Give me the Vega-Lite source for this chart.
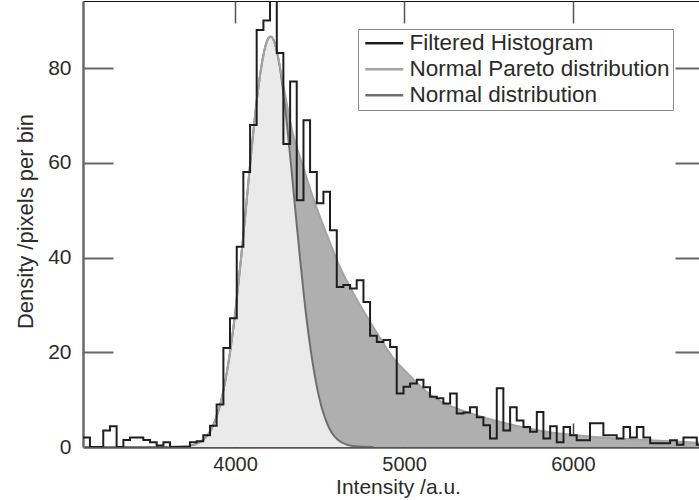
{
  "$schema": "https://vega.github.io/schema/vega-lite/v6.json",
  "autosize": "none",
  "width": 616,
  "height": 446,
  "padding": {"left": 83, "top": 1, "right": 0, "bottom": 53},
  "background": "white",
  "config": {
    "view": {"stroke": null},
    "font": "Liberation Sans",
    "axis": {"grid": false, "labelFont": "Liberation Sans", "titleFont": "Liberation Sans"}
  },
  "datasets": {
    "hist": [
      {"intensity": 3100, "value": 2},
      {"intensity": 3141, "value": 0},
      {"intensity": 3181, "value": 0},
      {"intensity": 3220, "value": 3.5},
      {"intensity": 3260, "value": 4.4},
      {"intensity": 3299, "value": 0},
      {"intensity": 3339, "value": 1.5},
      {"intensity": 3378, "value": 2},
      {"intensity": 3418, "value": 2},
      {"intensity": 3457, "value": 1.5},
      {"intensity": 3497, "value": 1},
      {"intensity": 3536, "value": 0.3},
      {"intensity": 3576, "value": 1},
      {"intensity": 3615, "value": 0},
      {"intensity": 3654, "value": 0},
      {"intensity": 3694, "value": 0},
      {"intensity": 3733, "value": 1},
      {"intensity": 3773, "value": 1.2},
      {"intensity": 3812, "value": 2.5},
      {"intensity": 3852, "value": 4.5},
      {"intensity": 3891, "value": 9},
      {"intensity": 3931, "value": 20.9},
      {"intensity": 3970, "value": 27.2},
      {"intensity": 4010, "value": 42.3},
      {"intensity": 4049, "value": 58.1},
      {"intensity": 4089, "value": 68},
      {"intensity": 4128, "value": 88.1},
      {"intensity": 4168, "value": 90.1},
      {"intensity": 4207, "value": 99},
      {"intensity": 4247, "value": 83.2},
      {"intensity": 4286, "value": 64},
      {"intensity": 4326, "value": 77.2},
      {"intensity": 4365, "value": 52.1},
      {"intensity": 4405, "value": 69},
      {"intensity": 4444, "value": 58.1},
      {"intensity": 4484, "value": 51.5},
      {"intensity": 4523, "value": 53.9},
      {"intensity": 4562, "value": 45.8},
      {"intensity": 4602, "value": 33.8},
      {"intensity": 4641, "value": 34.2},
      {"intensity": 4681, "value": 33.5},
      {"intensity": 4720, "value": 35.2},
      {"intensity": 4760, "value": 30.6},
      {"intensity": 4799, "value": 23.5},
      {"intensity": 4839, "value": 22.2},
      {"intensity": 4878, "value": 22.6},
      {"intensity": 4918, "value": 21.1},
      {"intensity": 4957, "value": 11.3},
      {"intensity": 4997, "value": 12.7},
      {"intensity": 5036, "value": 13.4},
      {"intensity": 5076, "value": 14.2},
      {"intensity": 5115, "value": 12.6},
      {"intensity": 5154, "value": 10.6},
      {"intensity": 5194, "value": 10.3},
      {"intensity": 5233, "value": 9.2},
      {"intensity": 5273, "value": 11.3},
      {"intensity": 5312, "value": 7.1},
      {"intensity": 5352, "value": 7.3},
      {"intensity": 5391, "value": 8.4},
      {"intensity": 5431, "value": 6.3},
      {"intensity": 5470, "value": 4.6},
      {"intensity": 5509, "value": 1.8},
      {"intensity": 5549, "value": 12.4},
      {"intensity": 5588, "value": 3.5},
      {"intensity": 5628, "value": 8.4},
      {"intensity": 5667, "value": 5.6},
      {"intensity": 5707, "value": 4.2},
      {"intensity": 5746, "value": 3.2},
      {"intensity": 5786, "value": 7.4},
      {"intensity": 5825, "value": 1.8},
      {"intensity": 5865, "value": 4.4},
      {"intensity": 5904, "value": 1},
      {"intensity": 5944, "value": 4.2},
      {"intensity": 5983, "value": 2.5},
      {"intensity": 6022, "value": 1.4},
      {"intensity": 6062, "value": 1.4},
      {"intensity": 6101, "value": 5},
      {"intensity": 6141, "value": 5},
      {"intensity": 6180, "value": 2.5},
      {"intensity": 6220, "value": 2.5},
      {"intensity": 6259, "value": 1.8},
      {"intensity": 6299, "value": 4.2},
      {"intensity": 6338, "value": 2},
      {"intensity": 6378, "value": 4.2},
      {"intensity": 6417, "value": 2},
      {"intensity": 6457, "value": 0.8},
      {"intensity": 6496, "value": 0.8},
      {"intensity": 6536, "value": 0.8},
      {"intensity": 6575, "value": 1.4},
      {"intensity": 6615, "value": 0.5},
      {"intensity": 6654, "value": 2},
      {"intensity": 6694, "value": 2},
      {"intensity": 6733, "value": 0.5},
      {"intensity": 6773, "value": 0.5}
    ],
    "normal": [
      {"intensity": 3600, "value": 0},
      {"intensity": 3660, "value": 0.04},
      {"intensity": 3710, "value": 0.15},
      {"intensity": 3760, "value": 0.5},
      {"intensity": 3810, "value": 1.5},
      {"intensity": 3835, "value": 2.4},
      {"intensity": 3860, "value": 3.8},
      {"intensity": 3885, "value": 5.9},
      {"intensity": 3910, "value": 8.7},
      {"intensity": 3935, "value": 12.6},
      {"intensity": 3960, "value": 17.6},
      {"intensity": 3985, "value": 23.8},
      {"intensity": 4010, "value": 31.2},
      {"intensity": 4035, "value": 39.7},
      {"intensity": 4060, "value": 48.8},
      {"intensity": 4085, "value": 58.2},
      {"intensity": 4110, "value": 67.2},
      {"intensity": 4135, "value": 75.1},
      {"intensity": 4160, "value": 81.3},
      {"intensity": 4185, "value": 85.3},
      {"intensity": 4210, "value": 86.7},
      {"intensity": 4235, "value": 85.3},
      {"intensity": 4260, "value": 81.3},
      {"intensity": 4285, "value": 75.1},
      {"intensity": 4310, "value": 67.2},
      {"intensity": 4335, "value": 58.2},
      {"intensity": 4360, "value": 48.8},
      {"intensity": 4385, "value": 39.7},
      {"intensity": 4410, "value": 31.2},
      {"intensity": 4435, "value": 23.8},
      {"intensity": 4460, "value": 17.6},
      {"intensity": 4485, "value": 12.6},
      {"intensity": 4510, "value": 8.7},
      {"intensity": 4535, "value": 5.9},
      {"intensity": 4560, "value": 3.8},
      {"intensity": 4585, "value": 2.4},
      {"intensity": 4610, "value": 1.5},
      {"intensity": 4660, "value": 0.5},
      {"intensity": 4710, "value": 0.15},
      {"intensity": 4760, "value": 0.04},
      {"intensity": 4820, "value": 0}
    ],
    "pareto": [
      {"intensity": 3600, "value": 0},
      {"intensity": 3660, "value": 0.04},
      {"intensity": 3710, "value": 0.15},
      {"intensity": 3760, "value": 0.5},
      {"intensity": 3810, "value": 1.5},
      {"intensity": 3835, "value": 2.4},
      {"intensity": 3860, "value": 3.8},
      {"intensity": 3885, "value": 5.9},
      {"intensity": 3910, "value": 8.7},
      {"intensity": 3935, "value": 12.6},
      {"intensity": 3960, "value": 17.6},
      {"intensity": 3985, "value": 23.8},
      {"intensity": 4010, "value": 31.2},
      {"intensity": 4035, "value": 39.7},
      {"intensity": 4060, "value": 48.8},
      {"intensity": 4085, "value": 58.2},
      {"intensity": 4110, "value": 67.2},
      {"intensity": 4135, "value": 75.1},
      {"intensity": 4160, "value": 81.3},
      {"intensity": 4185, "value": 85.3},
      {"intensity": 4210, "value": 86.7},
      {"intensity": 4235, "value": 85.3},
      {"intensity": 4260, "value": 81.4},
      {"intensity": 4285, "value": 76.5},
      {"intensity": 4310, "value": 71.8},
      {"intensity": 4335, "value": 67.3},
      {"intensity": 4400, "value": 59.5},
      {"intensity": 4473, "value": 51.5},
      {"intensity": 4550, "value": 44.2},
      {"intensity": 4611, "value": 38.8},
      {"intensity": 4700, "value": 32.5},
      {"intensity": 4769, "value": 28.2},
      {"intensity": 4850, "value": 23.5},
      {"intensity": 4947, "value": 18.3},
      {"intensity": 5000, "value": 16.3},
      {"intensity": 5075, "value": 13.6},
      {"intensity": 5172, "value": 10.6},
      {"intensity": 5300, "value": 8.3},
      {"intensity": 5467, "value": 6.3},
      {"intensity": 5650, "value": 4.6},
      {"intensity": 5864, "value": 3.1},
      {"intensity": 6100, "value": 2.2},
      {"intensity": 6456, "value": 1.4},
      {"intensity": 6760, "value": 0.9}
    ]
  },
  "layer": [
    {
      "data": {"name": "pareto"},
      "mark": {"type": "area", "interpolate": "monotone", "color": "#afafaf", "clip": true},
      "encoding": {
        "x": {
          "field": "intensity", "type": "quantitative",
          "scale": {"domain": [3100, 6746], "nice": false, "zero": false},
          "axis": {
            "orient": "bottom", "values": [4000, 5000, 6000], "format": "d", "ticks": false,
            "domainColor": "#555555", "domainWidth": 2.5,
            "labelFontSize": 20, "labelColor": "#2b2b2b", "labelPadding": 7,
            "title": "Intensity /a.u.", "titleFontSize": 21, "titleFontWeight": "normal",
            "titleColor": "#2b2b2b", "titleX": 315, "titleY": 46, "titleBaseline": "alphabetic"
          }
        },
        "y": {
          "field": "value", "type": "quantitative",
          "scale": {"domain": [0, 94.2], "nice": false},
          "axis": {
            "orient": "left", "values": [0, 20, 40, 60, 80], "ticks": false,
            "domainColor": "#6a6a6a", "domainWidth": 2.5,
            "labelFontSize": 21, "labelColor": "#2b2b2b", "labelPadding": 12,
            "title": "Density /pixels per bin", "titleFontSize": 22, "titleFontWeight": "normal",
            "titleColor": "#2b2b2b", "titleX": -51, "titleY": 220, "titleBaseline": "alphabetic"
          }
        }
      }
    },
    {
      "data": {"name": "normal"},
      "mark": {"type": "area", "interpolate": "monotone", "color": "#eaeaea", "clip": true},
      "encoding": {
        "x": {
          "field": "intensity", "type": "quantitative",
          "axis": {"orient": "top", "ticks": false, "labels": false, "title": null, "domainColor": "#111111", "domainWidth": 1}
        },
        "y": {"field": "value", "type": "quantitative", "axis": null}
      }
    },
    {
      "data": {"name": "normal"},
      "mark": {"type": "line", "interpolate": "monotone", "strokeWidth": 2, "clip": true},
      "encoding": {
        "x": {
          "field": "intensity", "type": "quantitative",
          "axis": {
            "orient": "bottom", "offset": -24, "values": [4000, 5000, 6000], "domain": false,
            "labels": false, "tickSize": 24, "tickColor": "#444444", "tickWidth": 1.5, "title": null
          }
        },
        "y": {
          "field": "value", "type": "quantitative",
          "axis": {
            "orient": "left", "offset": -30, "values": [20, 40, 60, 80], "domain": false,
            "labels": false, "tickSize": 30, "tickColor": "#666666", "tickWidth": 2, "title": null
          }
        },
        "color": {"datum": "Normal distribution"}
      }
    },
    {
      "data": {"name": "pareto"},
      "mark": {"type": "line", "interpolate": "monotone", "strokeWidth": 2, "clip": true},
      "encoding": {
        "x": {
          "field": "intensity", "type": "quantitative",
          "axis": {
            "orient": "top", "offset": -22, "values": [4000, 5000, 6000], "domain": false,
            "labels": false, "tickSize": 22, "tickColor": "#555555", "tickWidth": 1.5, "title": null
          }
        },
        "y": {
          "field": "value", "type": "quantitative",
          "axis": {
            "orient": "right", "offset": -24, "values": [20, 40, 60, 80], "domain": false,
            "labels": false, "tickSize": 24, "tickColor": "#666666", "tickWidth": 2, "title": null
          }
        },
        "color": {"datum": "Normal Pareto distribution"}
      }
    },
    {
      "data": {"name": "hist"},
      "mark": {"type": "line", "interpolate": "step-after", "strokeWidth": 2, "clip": true},
      "encoding": {
        "x": {"field": "intensity", "type": "quantitative", "axis": null},
        "y": {"field": "value", "type": "quantitative", "axis": null},
        "color": {
          "datum": "Filtered Histogram",
          "scale": {
            "domain": ["Filtered Histogram", "Normal Pareto distribution", "Normal distribution"],
            "range": ["#1e1e1e", "#a4a4a4", "#6e6e6e"]
          },
          "legend": {
            "orient": "none", "legendX": 275, "legendY": 28, "title": null,
            "labelFontSize": 22.5, "labelFont": "Liberation Sans", "labelColor": "#2b2b2b",
            "labelLimit": 400, "labelOffset": 14, "symbolType": "M-3,0H3", "symbolSize": 160,
            "symbolOffset": 12, "symbolStrokeWidth": 2.5, "strokeColor": "#8a8a8a", "fillColor": "white",
            "padding": 3, "rowPadding": 3
          }
        }
      }
    }
  ],
  "resolve": {"axis": {"x": "independent", "y": "independent"}}
}
